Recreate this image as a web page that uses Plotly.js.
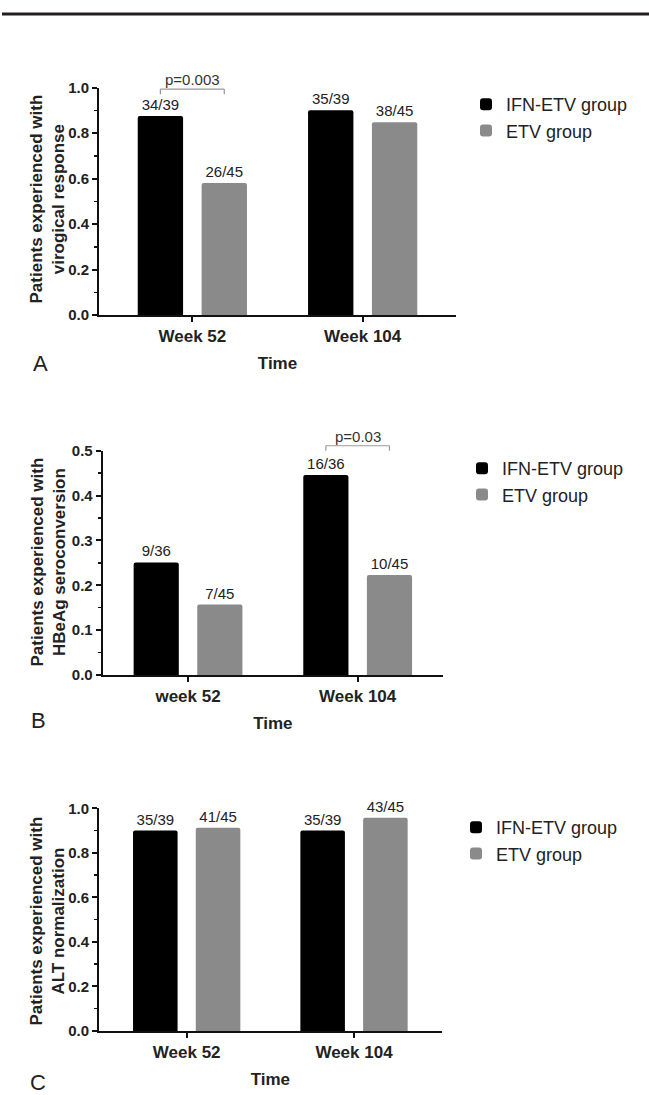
<!DOCTYPE html>
<html>
<head>
<meta charset="utf-8">
<script src="https://cdn.plot.ly/plotly-3.0.1.min.js"></script>
<style>html,body{margin:0;padding:0;background:#fff;}#chart{width:649px;height:1095px;}</style>
</head>
<body>
<div id="chart"></div>
<script>
// ---------- data ----------
const seriesNames = ['IFN-ETV group', 'ETV group'];

const categoriesA = ['Week 52', 'Week 104'];
const virologicIFN = [0.875, 0.900];
const virologicETV = [0.580, 0.847];
const virologicIFNLabels = ['34/39', '35/39'];
const virologicETVLabels = ['26/45', '38/45'];

const categoriesB = ['week 52', 'Week 104'];
const hbeagIFN = [0.251, 0.446];
const hbeagETV = [0.157, 0.223];
const hbeagIFNLabels = ['9/36', '16/36'];
const hbeagETVLabels = ['7/45', '10/45'];

const categoriesC = ['Week 52', 'Week 104'];
const altIFN = [0.900, 0.900];
const altETV = [0.913, 0.958];
const altIFNLabels = ['35/39', '35/39'];
const altETVLabels = ['41/45', '43/45'];

const yTitles = [
  'Patients experienced with<br>virogical response',
  'Patients experienced with<br>HBeAg seroconversion',
  'Patients experienced with<br>ALT normalization'
];
const xTitle = 'Time';
const panelLetters = ['A', 'B', 'C'];
// significance brackets: panel index, category index, label
const bracketPanels = [0, 1];
const bracketCats = [0, 1];
const bracketLabels = ['p=0.003', 'p=0.03'];

// ---------- style / layout ----------
const FONT = 'Liberation Sans, Arial, Helvetica, sans-serif';
const W = 649, H = 1095;
const BLACK = '#000000', GRAY = '#8a8a8a';
const BARGAP = 0.25, GROUPGAP = 0.29;
const px = v => v / W;
const py = v => 1 - v / H;

const panels = [
  { cats: categoriesA, ifn: virologicIFN, etv: virologicETV, ifnL: virologicIFNLabels, etvL: virologicETVLabels,
    yr: [0, 1], dtick: 0.2, minor: 0.1, xl: 99, xr: 456, yb: 315, yt: 87.5, xrange: [-0.548, 1.548],
    legX: 466, legY: 86, letter: [40, 363], ytitle: [47.5, 199],
    bracketLevel: 0.993, bracketLeg: 0.970, pY: 1.036 },
  { cats: categoriesB, ifn: hbeagIFN, etv: hbeagETV, ifnL: hbeagIFNLabels, etvL: hbeagETVLabels,
    yr: [0, 0.5], dtick: 0.1, minor: 0.05, xl: 102.7, xr: 443, yb: 675, yt: 450.7, xrange: [-0.503, 1.503],
    legX: 462, legY: 450, letter: [38.5, 720], ytitle: [47.5, 562],
    bracketLevel: 1.022, bracketLeg: 1.0, pY: 1.065 },
  { cats: categoriesC, ifn: altIFN, etv: altETV, ifnL: altIFNLabels, etvL: altETVLabels,
    yr: [0, 1], dtick: 0.2, minor: 0.1, xl: 99, xr: 441.7, yb: 1031, yt: 808.3, xrange: [-0.524, 1.524],
    legX: 456, legY: 809, letter: [37.5, 1082], ytitle: [46.5, 921],
    bracketLevel: 1.0, bracketLeg: 0.98, pY: 1.04 }
];

const traces = [];
const layout = {
  width: W, height: H,
  margin: { l: 0, r: 0, t: 0, b: 0 },
  paper_bgcolor: '#ffffff', plot_bgcolor: '#ffffff',
  font: { family: FONT, color: '#222222' },
  barmode: 'group', bargap: BARGAP, bargroupgap: GROUPGAP,
  showlegend: true,
  shapes: [], annotations: []
};

// top rule line of the page
layout.shapes.push({ type: 'line', xref: 'paper', yref: 'paper', x0: px(2), x1: 1, y0: py(14), y1: py(14),
  line: { color: '#231f20', width: 3 } });

panels.forEach((p, i) => {
  const n = i === 0 ? '' : String(i + 1);
  const xa = 'x' + n, ya = 'y' + n, leg = 'legend' + n;
  [[p.ifn, p.ifnL, BLACK, seriesNames[0]], [p.etv, p.etvL, GRAY, seriesNames[1]]].forEach(([vals, lbls, col, name]) => {
    traces.push({
      type: 'bar', x: p.cats, y: vals, name: name, xaxis: xa, yaxis: ya, legend: leg,
      marker: { color: col, line: { width: 0 }, cornerradius: 2 },
      text: lbls, textposition: 'outside', cliponaxis: false, constraintext: 'none',
      textfont: { family: FONT, size: 15, color: '#222222' },
      hoverinfo: 'none'
    });
  });
  layout['xaxis' + n] = {
    domain: [px(p.xl), px(p.xr)], anchor: ya, type: 'category', range: p.xrange,
    showline: true, linecolor: '#111111', linewidth: 2, showgrid: false, zeroline: false,
    ticks: 'outside', ticklen: 5, tickwidth: 2, tickcolor: '#111111',
    tickfont: { family: FONT, size: 17, color: '#222222', weight: 'bold' },
    title: { text: '<b>' + xTitle + '</b>', font: { family: FONT, size: 17, color: '#222222' }, standoff: 12 },
    fixedrange: true
  };
  layout['yaxis' + n] = {
    domain: [py(p.yb), py(p.yt)], anchor: xa, range: p.yr, dtick: p.dtick, tick0: 0, tickformat: '.1f',
    showline: true, linecolor: '#111111', linewidth: 2, showgrid: false, zeroline: false,
    ticks: 'outside', ticklen: 5, tickwidth: 2, tickcolor: '#111111',
    minor: { dtick: p.minor, ticks: 'outside', ticklen: 3, tickwidth: 1.5, tickcolor: '#111111', showgrid: false },
    tickfont: { family: FONT, size: 15, color: '#222222', weight: 'bold' },
    fixedrange: true
  };
  layout[leg] = {
    x: px(p.legX), y: py(p.legY), xanchor: 'left', yanchor: 'top', xref: 'paper', yref: 'paper',
    bgcolor: 'rgba(0,0,0,0)', borderwidth: 0,
    font: { family: FONT, size: 18, color: '#222222' },
    traceorder: 'normal', itemclick: false, itemdoubleclick: false
  };
  // y-axis title (rotated, two lines)
  layout.annotations.push({
    xref: 'paper', yref: 'paper', x: px(p.ytitle[0]), y: py(p.ytitle[1]), xanchor: 'center', yanchor: 'middle',
    text: '<b>' + yTitles[i] + '</b>', textangle: -90, showarrow: false,
    font: { family: FONT, size: 17, color: '#222222' }
  });
  layout.annotations.push({
    xref: 'paper', yref: 'paper', x: px(p.letter[0]), y: py(p.letter[1]), xanchor: 'center', yanchor: 'middle',
    text: panelLetters[i], showarrow: false, font: { family: FONT, size: 22, color: '#222222' }
  });
});

// significance brackets, positioned on bar centres through the category axis
const slot = (1 - BARGAP) / 2;
const off = slot / 2;
bracketPanels.forEach((pi, k) => {
  const p = panels[pi];
  const n = pi === 0 ? '' : String(pi + 1);
  const xa = 'x' + n, yd = 'y' + n + ' domain';
  const c = bracketCats[k];
  const l = { color: '#9a9a9a', width: 1.2 };
  layout.shapes.push({ type: 'line', xref: xa, yref: yd, x0: c - off, x1: c + off, y0: p.bracketLevel, y1: p.bracketLevel, line: l });
  layout.shapes.push({ type: 'line', xref: xa, yref: yd, x0: c - off, x1: c - off, y0: p.bracketLevel, y1: p.bracketLeg, line: l });
  layout.shapes.push({ type: 'line', xref: xa, yref: yd, x0: c + off, x1: c + off, y0: p.bracketLevel, y1: p.bracketLeg, line: l });
  layout.annotations.push({ xref: xa, yref: yd, x: c, y: p.pY, xanchor: 'center', yanchor: 'middle',
    text: bracketLabels[k], showarrow: false, font: { family: FONT, size: 15, color: '#333333' } });
});

Plotly.newPlot('chart', traces, layout, { staticPlot: true, displayModeBar: false });
</script>
</body>
</html>
